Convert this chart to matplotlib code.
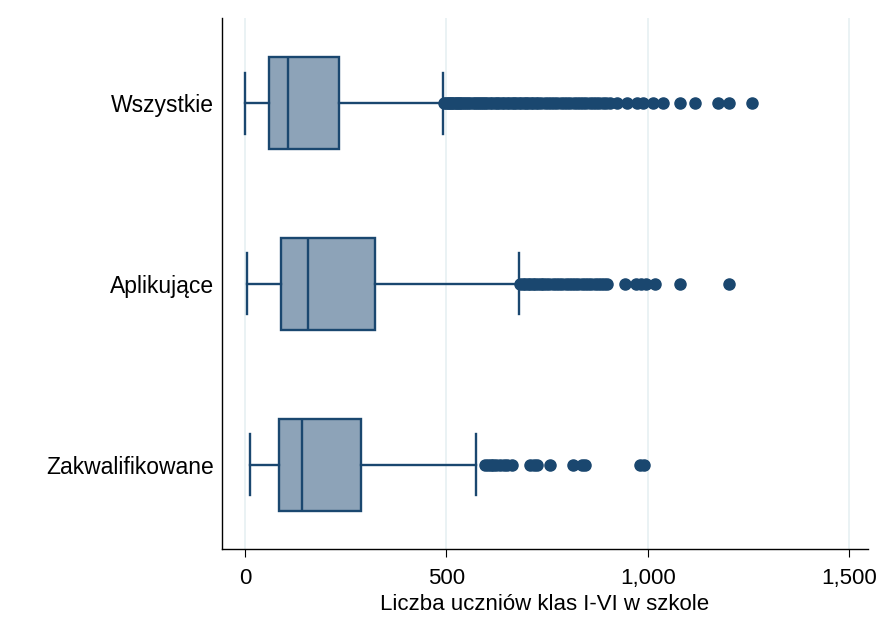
import matplotlib.pyplot as plt

plt.rcParams['font.family'] = ['Liberation Sans', 'DejaVu Sans']

groups = ['Wszystkie', 'Aplikujące', 'Zakwalifikowane']
whislo = [0, 4, 12]
q1 = [60, 89, 85]
med = [106, 157, 142]
q3 = [234, 324, 288]
whishi = [492, 680, 574]

fliers_all = [495, 499, 503, 507, 511, 515, 519, 523, 527, 531, 535, 540, 545, 550,
              555, 560, 565, 570, 575, 580, 585, 590, 596, 602, 608, 614, 620, 626,
              632, 638, 644, 650, 656, 662, 668, 674, 680, 686, 692, 698, 704, 710,
              716, 722, 728, 736, 744, 752, 760, 768, 776, 784, 792, 800, 808, 816,
              824, 832, 840, 848, 856, 864, 872, 880, 888, 896, 906, 923, 948, 973,
              988, 1013, 1037, 1080, 1118, 1174, 1203, 1260]
fliers_apl = [684, 690, 696, 702, 708, 714, 720, 727, 734, 741, 748, 756, 764, 772,
              780, 788, 796, 804, 812, 820, 828, 836, 844, 852, 860, 868, 876, 884,
              892, 900, 944, 971, 983, 996, 1018, 1080, 1202]
fliers_zak = [596, 603, 610, 616, 624, 633, 642, 650, 662, 708, 718, 724, 757,
              815, 836, 844, 980, 990]
fliers = [fliers_all, fliers_apl, fliers_zak]

navy = '#1a476f'
box_fill = '#8da3b8'

stats = []
for i, name in enumerate(groups):
    stats.append(dict(label=name, whislo=whislo[i], q1=q1[i], med=med[i],
                      q3=q3[i], whishi=whishi[i], fliers=fliers[i]))

fig = plt.figure(figsize=(8.79, 6.28), dpi=100)
ax = fig.add_axes([222 / 879, 1 - 549 / 628, (868 - 222) / 879, (549 - 18) / 628])

positions = [3, 2, 1]
lw = 1.7
ax.bxp(stats, positions=positions, vert=False, widths=0.508, capwidths=0.337,
       patch_artist=True,
       boxprops=dict(facecolor=box_fill, edgecolor=navy, linewidth=lw),
       medianprops=dict(color=navy, linewidth=lw),
       whiskerprops=dict(color=navy, linewidth=lw),
       capprops=dict(color=navy, linewidth=lw),
       flierprops=dict(marker='o', markerfacecolor=navy, markeredgecolor=navy,
                       markersize=8, linestyle='none'))

ax.set_xlim(-57, 1547)
ax.set_ylim(0.535, 3.47)
ax.set_xticks([0, 500, 1000, 1500])
ax.set_xticklabels(['0', '500', '1,000', '1,500'])
ax.set_yticks(positions)
ax.set_yticklabels(groups)
ax.tick_params(axis='x', labelsize=16, length=6, width=0.8, pad=8)
ax.tick_params(axis='y', labelsize=16.5, length=0, pad=6)
ax.xaxis.grid(True, color='#e8f1f3', linewidth=1.3)
ax.set_axisbelow(True)
ax.spines['top'].set_visible(False)
ax.spines['right'].set_visible(False)
ax.spines['left'].set_linewidth(1.0)
ax.spines['bottom'].set_linewidth(1.0)
ax.set_xlabel('Liczba uczniów klas I-VI w szkole', fontsize=16, labelpad=3)

fig.savefig('out.png', dpi=100)
